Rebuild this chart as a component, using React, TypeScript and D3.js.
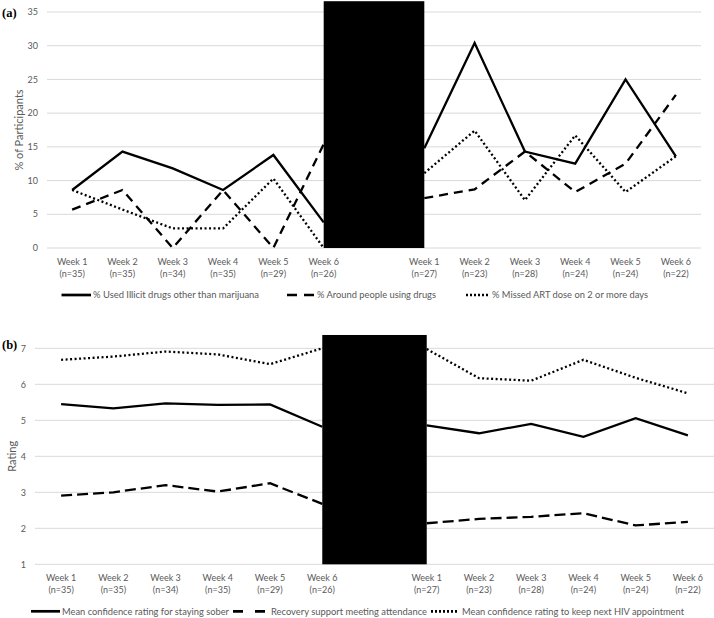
import React from "react";
import * as d3 from "d3";

// ---------- data ----------
const slots = ["L1", "L2", "L3", "L4", "L5", "L6", "gap", "R1", "R2", "R3", "R4", "R5", "R6"];
const weekLabels = ["Week 1", "Week 2", "Week 3", "Week 4", "Week 5", "Week 6", "", "Week 1", "Week 2", "Week 3", "Week 4", "Week 5", "Week 6"];
const nLabels = ["(n=35)", "(n=35)", "(n=34)", "(n=35)", "(n=29)", "(n=26)", "", "(n=27)", "(n=23)", "(n=28)", "(n=24)", "(n=24)", "(n=22)"];

// Panel (a): % of participants
const illicitDrugs = [8.6, 14.3, 11.8, 8.6, 13.8, 3.8, null, 14.8, 30.4, 14.3, 12.5, 25.0, 13.6];
const aroundDrugs = [5.7, 8.6, 0, 8.6, 0, 15.4, null, 7.4, 8.7, 14.3, 8.3, 12.5, 22.7];
const missedArt = [8.6, 5.7, 2.9, 2.9, 10.3, 0, null, 11.1, 17.4, 7.1, 16.7, 8.3, 13.6];
const pctTicks = [0, 5, 10, 15, 20, 25, 30, 35];
const pctDomain = [0, 35];
const pctMaskTop = 36.6;

// Panel (b): rating
const soberRating = [5.45, 5.33, 5.47, 5.43, 5.44, 4.82, null, 4.86, 4.64, 4.9, 4.54, 5.06, 4.58];
const recoveryAttend = [2.91, 3.0, 3.2, 3.02, 3.25, 2.68, null, 2.14, 2.26, 2.32, 2.42, 2.08, 2.18];
const hivApptRating = [6.68, 6.77, 6.91, 6.83, 6.56, 7.0, null, 6.98, 6.17, 6.1, 6.68, 6.18, 5.75];
const ratingTicks = [1, 2, 3, 4, 5, 6, 7];
const ratingDomain = [1, 7];
const ratingMaskTop = 7.37;

const maskFrom = "L6";
const maskTo = "R1";

const legendA = ["% Used Illicit drugs other than marijuana", "% Around people using drugs", "% Missed ART dose on 2 or more days"];
const legendB = ["Mean confidence rating for staying sober", "Recovery support meeting attendance", "Mean confidence rating to keep next HIV appointment"];

// ---------- styles ----------
const FONT = "Lato, 'Liberation Sans', sans-serif";
const TEXT = "#595959";
const GRID = "#d9d9d9";
const styleSolid = { dash: null, width: 2.3, cap: "butt" };
const styleDash = { dash: "9,6", width: 2.3, cap: "butt" };
const styleDot = { dash: "2,2.5", width: 2.3, cap: "butt" };

type LineStyle = { dash: string | null; width: number; cap: string };

type PanelProps = {
  label: string;
  labelY: number;
  yTitle: string;
  yTitleX: number;
  xRange: [number, number];
  yRange: [number, number];
  domain: number[];
  ticks: number[];
  tickX: number;
  maskTop: number;
  series: { values: (number | null)[]; style: LineStyle; dash?: string }[];
  legend: string[];
  legendItems: { s0: number; s1: number; t: number; w: number }[];
  legendDashes: string[];
};

function Panel(p: PanelProps) {
  const x = d3.scaleBand<string>().domain(slots).range(p.xRange).paddingInner(0).paddingOuter(0);
  const cx = (k: string) => (x(k) as number) + x.bandwidth() / 2;
  const y = d3.scaleLinear().domain(p.domain).range(p.yRange);
  const line = d3
    .line<number | null>()
    .defined((d) => d != null)
    .x((_, i) => cx(slots[i]))
    .y((d) => y(d as number));

  const y0 = y(p.domain[0]);
  const yTitleCenter = (p.yRange[0] + p.yRange[1]) / 2;
  const weekY = y0 + 17;
  const nY = weekY + 11.6;
  const legY = y0 + 47;

  return (
    <g>
      <text x={2} y={p.labelY} fontFamily="'Liberation Serif', serif" fontWeight="bold" fontSize={12.5} fill="#000">
        {p.label}
      </text>
      {p.ticks.map((t) => (
        <g key={t}>
          <line x1={p.xRange[0]} x2={p.xRange[1]} y1={y(t)} y2={y(t)} stroke={GRID} strokeWidth={1} />
          <text x={p.tickX} y={y(t) + 3.2} textAnchor="end" fontFamily={FONT} fontSize={9} fill={TEXT}>
            {t}
          </text>
        </g>
      ))}
      <text
        transform={`translate(${p.yTitleX},${yTitleCenter}) rotate(-90)`}
        textAnchor="middle"
        fontFamily={FONT}
        fontSize={11}
        fill={TEXT}
      >
        {p.yTitle}
      </text>
      {slots.map((s, i) =>
        weekLabels[i] ? (
          <g key={s}>
            <text x={cx(s)} y={weekY} textAnchor="middle" fontFamily={FONT} fontSize={9} fill={TEXT}>
              {weekLabels[i]}
            </text>
            <text x={cx(s)} y={nY} textAnchor="middle" fontFamily={FONT} fontSize={9} fill={TEXT}>
              {nLabels[i]}
            </text>
          </g>
        ) : null
      )}
      {p.series.map((s, i) => (
        <path
          key={i}
          d={line(s.values) || ""}
          fill="none"
          stroke="#000"
          strokeWidth={s.style.width}
          strokeDasharray={s.dash ?? s.style.dash ?? undefined}
          strokeLinecap={s.style.cap as any}
          strokeLinejoin="miter"
        />
      ))}
      <rect
        x={cx(maskFrom)}
        y={y(p.maskTop)}
        width={cx(maskTo) - cx(maskFrom)}
        height={y0 - y(p.maskTop)}
        fill="#000"
      />
      {p.legend.map((name, i) => {
        const it = p.legendItems[i];
        const st = p.series[i].style;
        return (
          <g key={name}>
            <line
              x1={it.s0}
              x2={it.s1}
              y1={legY}
              y2={legY}
              stroke="#000"
              strokeWidth={st.width + 0.4}
              strokeDasharray={p.legendDashes[i] || undefined}
            />
            <text
              x={it.t}
              y={legY + 3.2}
              fontFamily={FONT}
              fontSize={9}
              fill={TEXT}
              textLength={it.w}
              lengthAdjust="spacingAndGlyphs"
            >
              {name}
            </text>
          </g>
        );
      })}
    </g>
  );
}

export default function App() {
  return (
    <svg
      width={714}
      height={618}
      style={{ position: "fixed", left: 0, top: 0, background: "#fff" }}
    >
      <rect x={0} y={0} width={714} height={618} fill="#fff" />
      <Panel
        label="(a)"
        labelY={17}
        yTitle="% of Participants"
        yTitleX={23}
        xRange={[47, 701]}
        yRange={[248, 12]}
        domain={pctDomain}
        ticks={pctTicks}
        tickX={38}
        maskTop={pctMaskTop}
        series={[
          { values: illicitDrugs, style: styleSolid },
          { values: aroundDrugs, style: styleDash },
          { values: missedArt, style: styleDot },
        ]}
        legend={legendA}
        legendItems={[
          { s0: 61.5, s1: 91, t: 93, w: 166 },
          { s0: 287, s1: 314, t: 317, w: 119 },
          { s0: 466, s1: 489, t: 492, w: 156 },
        ]}
        legendDashes={["", "10,7", "2,2"]}
      />
      <Panel
        label="(b)"
        labelY={349}
        yTitle="Rating"
        yTitleX={16}
        xRange={[35, 714]}
        yRange={[564.3, 348.3]}
        domain={ratingDomain}
        ticks={ratingTicks}
        tickX={26}
        maskTop={ratingMaskTop}
        series={[
          { values: soberRating, style: styleSolid },
          { values: recoveryAttend, style: styleDash, dash: "11,5" },
          { values: hivApptRating, style: styleDot },
        ]}
        legend={legendB}
        legendItems={[
          { s0: 31, s1: 60, t: 62, w: 167 },
          { s0: 233, s1: 267, t: 271, w: 156 },
          { s0: 431, s1: 458, t: 462, w: 222 },
        ]}
        legendDashes={["", "10,12", "2,2"]}
      />
    </svg>
  );
}
